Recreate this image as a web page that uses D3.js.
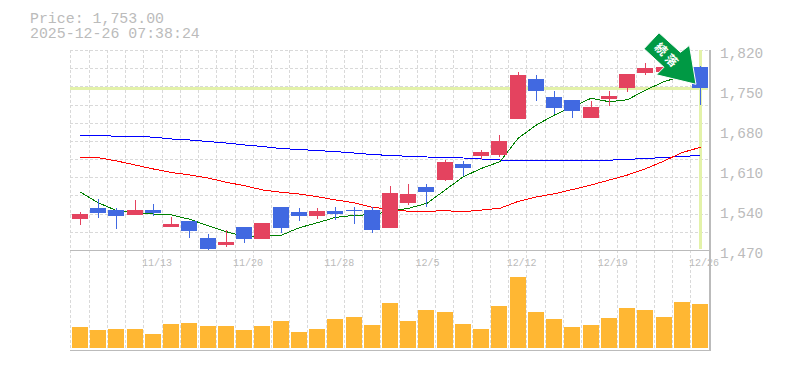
<!DOCTYPE html>
<html><head><meta charset="utf-8">
<script src="https://cdn.jsdelivr.net/npm/d3@7"></script>
<style>html,body{margin:0;padding:0;background:#fff}svg{display:block}</style>
</head><body><svg id="c" width="785" height="370"></svg>
<script>
const priceLabel = "Price: 1,753.00";
const timeLabel = "2025-12-26 07:38:24";
const priceTicks = [1820,1750,1680,1610,1540,1470];
const dateIdx = [4,9,14,19,24,29,34];
const dateLabels = ["11/13","11/20","11/28","12/5","12/12","12/19","12/26"];
const lastPrice = 1753;
// candle values
const open  = [1524.25,1543.5,1540,1531.25,1540,1510.25,1520.75,1491,1478.75,1510.25,1489.25,1545.25,1536.5,1529.5,1538,1540,1540,1508.5,1552.25,1580,1592.5,1620.5,1634.5,1636.25,1699.25,1769.25,1737.75,1732.5,1701,1734.25,1753.5,1779.75,1781.5,1778,1790.25];
const close = [1533,1534.75,1529.5,1540,1534.75,1515.5,1503.25,1471.75,1484,1489.25,1517.25,1508.5,1529.5,1538,1533,1538.25,1505,1569.75,1568,1571.5,1624,1613.5,1641.5,1660.75,1776.25,1748.25,1718.5,1713.25,1720.25,1739.5,1778,1788.5,1790,1792,1753];
const high  = [1536.5,1559.25,1543.5,1557.5,1550.5,1527.75,1520.75,1498,1505,1510.25,1517.25,1545.25,1543.5,1543.5,1545.25,1545.25,1545.25,1582,1585.5,1585.5,1627.5,1625.75,1645,1671.25,1781.5,1776.25,1748.25,1732.5,1730.75,1748.25,1778,1797.25,1793.75,1802.5,1792];
const low   = [1513.75,1526,1506.75,1531.25,1529.5,1510.25,1491,1470,1475.25,1482.25,1489.25,1499.75,1520.75,1524.25,1522.5,1515.5,1499.75,1508.5,1548.75,1545.25,1590.75,1599.5,1629.25,1632.75,1699.25,1730.75,1708,1701,1701,1722,1746.5,1776.25,1778,1774.5,1723.75];
const ma5  = [1571,1552.25,1538.8,1534.75,1533,1531.25,1523.7,1512.5,1502,1493.3,1494,1495.7,1509,1517.8,1527.2,1530.7,1531.8,1538.25,1543,1551.7,1575,1598.3,1613,1624.5,1665.5,1688.75,1706.25,1720.8,1735.5,1729.5,1733,1750,1764.5,1774.5,1785];
const ma25 = [1632.2,1631.4,1625.75,1618.75,1611.75,1605.6,1601.25,1596,1588.5,1582.5,1575,1571,1568,1563.3,1557.5,1552.8,1544.7,1541.2,1537.7,1537.7,1538.8,1537,1540,1543,1555,1562.75,1568.5,1576,1583.75,1592.5,1601.25,1612.3,1625.75,1640.6,1649.7];
const ma75 = [1670.7,1670.4,1669,1669,1667.4,1664.25,1662.5,1659.9,1657.25,1653.75,1651.1,1647.6,1645.9,1644,1642.2,1639.75,1637.1,1635.4,1634,1632.75,1631.9,1631,1629.25,1627.5,1627.15,1627,1627,1627,1627,1627.15,1628.7,1630.1,1631.9,1633.6,1635.7];
const volume = [21,18,19,19,14,24,25,22,22,18,22,27,16,19,29,31,23,45,27,38,36,24,19,42,71,36,29,21,23,30,40,38,31,46,44];
const arrowText = ["続","落"];

const svg = d3.select("#c");
const L=70,R=710,T=50,B=250,VB=348;
const step=18.235;
const n=volume.length;
const idx=d3.range(n);
const x=d3.scaleLinear().domain([0,n-1]).range([80,80+step*(n-1)]);
const y=d3.scaleLinear().domain([1470,1820]).range([B,T]);
const yv=d3.scaleLinear().domain([0,d3.max(volume)]).range([VB,VB-71]);
const MONO="'Liberation Mono','DejaVu Sans Mono',monospace";
const GREY="#bbbbbb";
// grid
const g=svg.append("g").attr("shape-rendering","crispEdges").attr("stroke","#d9d9d9").attr("stroke-dasharray","3,2");
d3.range(0,36).forEach(i=>{const px=Math.round(70.4+step*i);
  g.append("line").attr("x1",px+.5).attr("x2",px+.5).attr("y1",T).attr("y2",VB+1);});
d3.range(0,11).forEach(i=>{const py=Math.round(T+i*200/11);
  g.append("line").attr("x1",L).attr("x2",R-2).attr("y1",py+.5).attr("y2",py+.5);});
// highlight
svg.append("rect").attr("x",L).attr("width",R-2-L).attr("y",Math.round(y(lastPrice))-1).attr("height",3).attr("fill","#e3f2a9");
svg.append("rect").attr("x",Math.round(x(n-1))-1).attr("width",3).attr("y",T).attr("height",B-1-T).attr("fill","#e3f2a9");
// MA
const line=d3.line().x((d,i)=>x(i)+.5).y(d=>y(d));
[[ma75,"#0000ff"],[ma25,"#ff0000"],[ma5,"#008000"]].forEach(([d,c])=>{
  svg.append("path").attr("d",line(d)).attr("fill","none").attr("stroke",c).attr("stroke-width",1).attr("shape-rendering","crispEdges");
});
// candles
const cg=svg.append("g").attr("shape-rendering","crispEdges");
idx.forEach(i=>{
  const c=close[i]>=open[i]?"#e4435f":"#4169e1";
  const cx=Math.round(x(i));
  cg.append("line").attr("x1",cx+.5).attr("x2",cx+.5).attr("y1",y(high[i])).attr("y2",y(low[i])).attr("stroke",c);
  const top=y(Math.max(open[i],close[i])),bot=y(Math.min(open[i],close[i]));
  cg.append("rect").attr("x",cx-8).attr("width",16).attr("y",top).attr("height",Math.max(1,bot-top)).attr("fill",c);
  cg.append("rect").attr("x",cx-8).attr("width",16).attr("y",yv(volume[i])).attr("height",VB-yv(volume[i])).attr("fill","#ffb733");
});
// frame
const fr=svg.append("g").attr("shape-rendering","crispEdges").attr("stroke",GREY).attr("stroke-width",1.5).attr("fill","none");
fr.append("line").attr("x1",L).attr("x2",R+1).attr("y1",B+.5).attr("y2",B+.5);
fr.append("line").attr("x1",L).attr("x2",R+1).attr("y1",VB+2.5).attr("y2",VB+2.5);
fr.append("line").attr("x1",R).attr("x2",R).attr("y1",T).attr("y2",VB+3);
// arrow anchored on last candle
const ax=x(n-1), ay=y(lastPrice);
const ag=svg.append("g").attr("transform",`translate(${ax-4},${ay-4})`);
ag.append("path").attr("d","M-37,-51.5 L-52,-35.5 L-32,-17 L-39.5,-9.5 L0,0 L-6.5,-39 L-15.5,-32 Z")
  .attr("fill","#009944").attr("stroke","#fff").attr("stroke-width",1);
arrowText.forEach((t,i)=>{
  ag.append("text").text(t).attr("transform",`translate(${-34+i*10.5},${-36+i*11.3}) rotate(45)`)
   .attr("text-anchor","middle").attr("dominant-baseline","central")
   .attr("font-family","'Noto Sans CJK JP'").attr("font-weight",700).attr("font-size",12).attr("fill","#fff");
});
// text
const tg=svg.append("g").attr("font-family",MONO).attr("fill",GREY);
tg.append("text").attr("x",30).attr("y",23).attr("font-size",14.9).text(priceLabel);
tg.append("text").attr("x",30).attr("y",38).attr("font-size",14.9).text(timeLabel);
priceTicks.forEach(p=>{tg.append("text").attr("x",720).attr("y",y(p)+8).attr("font-size",14.4).text(d3.format(",")(p));});
dateIdx.forEach((d,i)=>{tg.append("text").attr("x",x(d)-11).attr("y",266).attr("font-size",11.5).attr("textLength",dateLabels[i].length*6).attr("lengthAdjust","spacingAndGlyphs").text(dateLabels[i]);});
</script></body></html>
